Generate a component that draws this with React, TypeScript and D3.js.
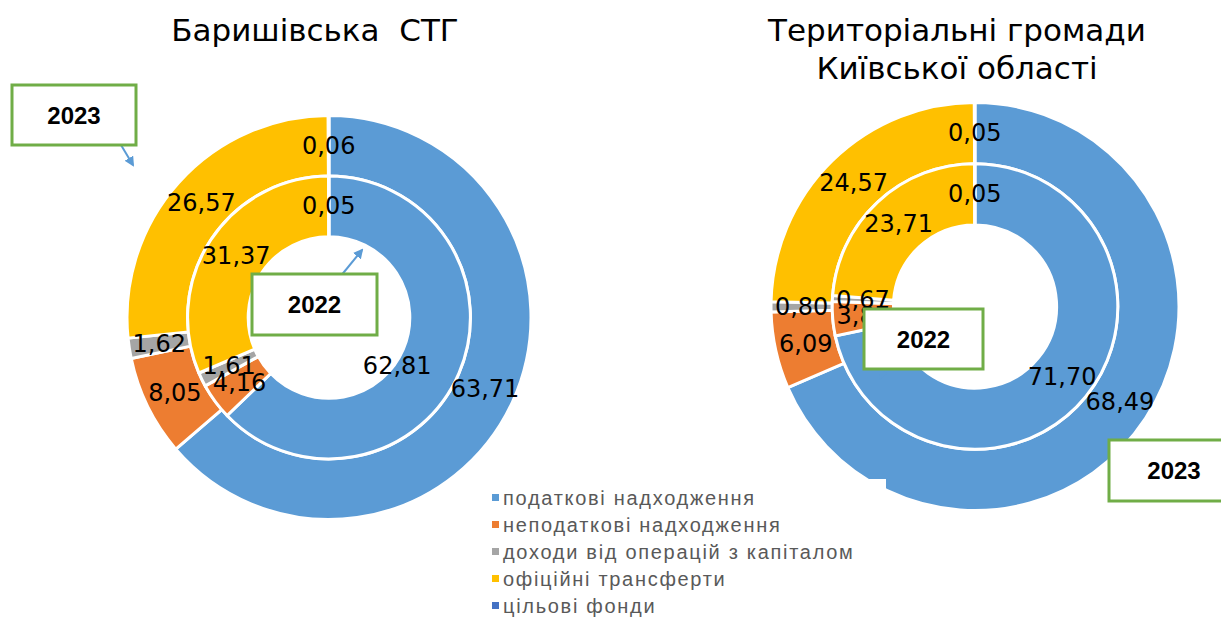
import React from "react";
import * as d3 from "d3";

const categories = [
  "податкові надходження",
  "неподаткові надходження",
  "доходи від операцій з капіталом",
  "офіційні трансферти",
  "цільові фонди",
];
const colors = ["#5B9BD5", "#ED7D31", "#A5A5A5", "#FFC000", "#4472C4"];

// Баришівська СТГ
const baryshivka2023 = [63.71, 8.05, 1.62, 26.57, 0.06];
const baryshivka2022 = [62.81, 4.16, 1.61, 31.37, 0.05];
// Територіальні громади Київської області
const kyivOblast2023 = [68.49, 6.09, 0.8, 24.57, 0.05];
const kyivOblast2022 = [71.7, 3.87, 0.67, 23.71, 0.05];

// manual label nudges (as in the original chart), keyed "ring-index"
const baryshivkaInnerNudge: Record<number, [number, number]> = { 0: [-34, 5] };

const fmt = (v: number) => v.toFixed(2).replace(".", ",");

const pie = d3
  .pie<number>()
  .sort(null)
  .value((d) => d)
  .startAngle(0)
  .endAngle(2 * Math.PI);

function Ring({ data, r0, r1 }: { data: number[]; r0: number; r1: number }) {
  const arc = d3.arc<d3.PieArcDatum<number>>().innerRadius(r0).outerRadius(r1);
  const arcs = pie(data);
  return (
    <g>
      {arcs.map((a, i) => (
        <path key={i} d={arc(a) || ""} fill={colors[i]} stroke="#fff" strokeWidth={3} />
      ))}
    </g>
  );
}

function RingLabels({
  data,
  r0,
  r1,
  nudge,
}: {
  data: number[];
  r0: number;
  r1: number;
  nudge?: Record<number, [number, number]>;
}) {
  const arc = d3.arc<d3.PieArcDatum<number>>().innerRadius(r0).outerRadius(r1);
  const arcs = pie(data);
  return (
    <g>
      {arcs.map((a, i) => {
        const [x, y] = arc.centroid(a);
        const [dx, dy] = (nudge && nudge[i]) || [0, 0];
        return (
          <text
            key={i}
            x={x + dx}
            y={y + dy}
            textAnchor="middle"
            dominantBaseline="central"
            fontFamily="DejaVu Sans"
            fontSize={24}
            fill="#000"
          >
            {fmt(data[i])}
          </text>
        );
      })}
    </g>
  );
}

function Donut({
  cx,
  cy,
  R,
  outer,
  inner,
  innerNudge,
}: {
  cx: number;
  cy: number;
  R: number;
  outer: number[];
  inner: number[];
  innerNudge?: Record<number, [number, number]>;
}) {
  const rHole = R * 0.4;
  const rMid = R * 0.7;
  return (
    <g transform={`translate(${cx},${cy})`}>
      <Ring data={outer} r0={rMid} r1={R} />
      <Ring data={inner} r0={rHole} r1={rMid} />
      <RingLabels data={outer} r0={rMid} r1={R} />
      <RingLabels data={inner} r0={rHole} r1={rMid} nudge={innerNudge} />
    </g>
  );
}

function Callout({
  x,
  y,
  w,
  h,
  label,
  arrow,
}: {
  x: number;
  y: number;
  w: number;
  h: number;
  label: string;
  arrow?: [number, number, number, number];
}) {
  return (
    <g>
      {arrow && (
        <line
          x1={arrow[0]}
          y1={arrow[1]}
          x2={arrow[2]}
          y2={arrow[3]}
          stroke="#5B9BD5"
          strokeWidth={2}
          markerEnd="url(#arrowhead)"
        />
      )}
      <rect x={x} y={y} width={w} height={h} fill="#fff" stroke="#70AD47" strokeWidth={3} />
      <text
        x={x + w / 2}
        y={y + h / 2}
        textAnchor="middle"
        dominantBaseline="central"
        fontFamily="Liberation Sans, Arial"
        fontWeight="bold"
        fontSize={24}
        fill="#000"
      >
        {label}
      </text>
    </g>
  );
}

export default function App() {
  return (
    <svg
      width={1221}
      height={618}
      style={{ position: "absolute", left: 0, top: 0, background: "#fff" }}
    >
      <defs>
        <marker
          id="arrowhead"
          viewBox="0 0 10 10"
          refX={8}
          refY={5}
          markerWidth={5}
          markerHeight={5}
          orient="auto"
          markerUnits="strokeWidth"
        >
          <path d="M0,0 L10,5 L0,10 z" fill="#5B9BD5" />
        </marker>
      </defs>
      <rect width={1221} height={618} fill="#fff" />

      <text
        x={315}
        y={41}
        textAnchor="middle"
        fontFamily="DejaVu Sans"
        fontSize={31}
        fill="#000"
        style={{ whiteSpace: "pre" }}
      >
        {"Баришівська  СТГ"}
      </text>
      <text x={957} y={41} textAnchor="middle" fontFamily="DejaVu Sans" fontSize={31} fill="#000">
        Територіальні громади
      </text>
      <text x={957} y={79} textAnchor="middle" fontFamily="DejaVu Sans" fontSize={31} fill="#000">
        Київської області
      </text>

      <Donut
        cx={329}
        cy={317.5}
        R={202}
        outer={baryshivka2023}
        inner={baryshivka2022}
        innerNudge={baryshivkaInnerNudge}
      />
      <Donut cx={975} cy={306.5} R={204} outer={kyivOblast2023} inner={kyivOblast2022} />

      <Callout x={12} y={85} w={124} h={60} label="2023" arrow={[121, 145, 133, 165]} />
      <Callout x={252} y={274} w={125} h={61} label="2022" arrow={[340, 277, 362, 250]} />
      <Callout x={864} y={309} w={119} h={60} label="2022" arrow={[885, 369, 880, 378]} />
      <Callout x={1109} y={440} w={130} h={61} label="2023" />

      <rect x={470} y={479} width={416} height={139} fill="#fff" />
      {categories.map((c, i) => (
        <g key={c}>
          <rect x={492} y={494 + i * 27} width={7} height={7} fill={colors[i]} />
          <text
            x={503}
            y={498 + i * 27}
            dominantBaseline="central"
            fontFamily="Liberation Sans, Arial"
            fontSize={20}
            letterSpacing={1.7}
            fill="#595959"
          >
            {c}
          </text>
        </g>
      ))}
    </svg>
  );
}
